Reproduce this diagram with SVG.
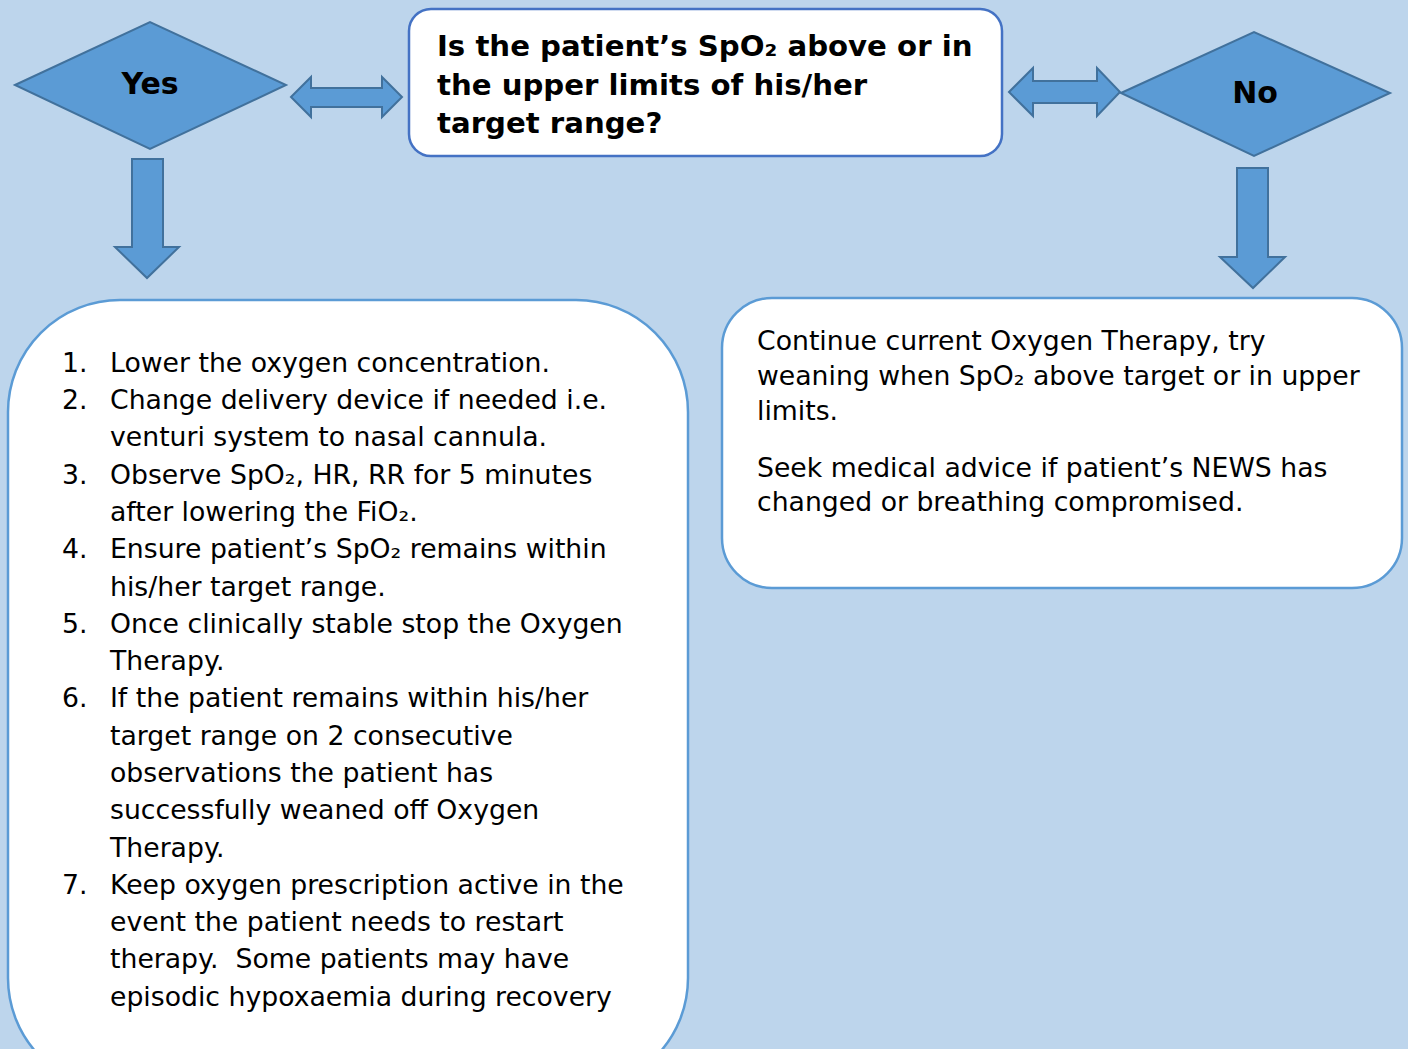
<svg xmlns="http://www.w3.org/2000/svg" width="1408" height="1049" viewBox="0 0 1408 1049">
<style>
.shape{fill:#5B9BD5;stroke:#41719C;stroke-width:2;stroke-linejoin:miter}
.box{fill:#FFFFFF;stroke:#5B9BD5;stroke-width:2.5}
.qbox{fill:#FFFFFF;stroke:#4472C4;stroke-width:2.5}
.t{font-family:"DejaVu Sans",Verdana,sans-serif;font-size:26.7px;fill:#000}
.b{font-family:"DejaVu Sans",Verdana,sans-serif;font-weight:bold;fill:#000}
</style>
<rect x="0" y="0" width="1408" height="1049" fill="#BDD5EC"/>
<g id="connectors">
<polygon class="shape" points="291,97 311,77 311,88 382,88 382,77 402,97 382,117 382,107 311,107 311,117"/>
<polygon class="shape" points="1009,92 1033,68 1033,81 1097,81 1097,68 1120,92 1097,116 1097,103 1033,103 1033,116"/>
<polygon class="shape" points="132,159 163,159 163,247 179,247 147,278 115,247 132,247"/>
<polygon class="shape" points="1237,168 1268,168 1268,257 1285,257 1253,288 1220,257 1237,257"/>
</g>
<g id="yes">
<polygon class="shape" points="15,85 150,22 286,85 150,149"/>
<text class="b" x="150" y="94" font-size="30" text-anchor="middle">Yes</text>
</g>
<g id="no">
<polygon class="shape" points="1121,93 1254,32 1390,93 1254,156"/>
<text class="b" x="1255" y="103" font-size="30" text-anchor="middle">No</text>
</g>
<g id="question">
<rect class="qbox" x="409" y="9" width="593" height="147" rx="22"/>
<text class="b" font-size="29.2"><tspan x="437" y="56">Is the patient’s SpO₂ above or in</tspan><tspan x="437" y="95">the upper limits of his/her</tspan><tspan x="437" y="133">target range?</tspan></text>
</g>
<g id="yes-actions">
<rect class="box" x="8" y="300" width="680" height="790" rx="112"/>
<text class="t">
<tspan x="62" y="372">1.</tspan><tspan x="110" y="372">Lower the oxygen concentration.</tspan>
<tspan x="62" y="409">2.</tspan><tspan x="110" y="409">Change delivery device if needed i.e.</tspan>
<tspan x="110" y="446">venturi system to nasal cannula.</tspan>
<tspan x="62" y="484">3.</tspan><tspan x="110" y="484">Observe SpO₂, HR, RR for 5 minutes</tspan>
<tspan x="110" y="521">after lowering the FiO₂.</tspan>
<tspan x="62" y="558">4.</tspan><tspan x="110" y="558">Ensure patient’s SpO₂ remains within</tspan>
<tspan x="110" y="596">his/her target range.</tspan>
<tspan x="62" y="633">5.</tspan><tspan x="110" y="633">Once clinically stable stop the Oxygen</tspan>
<tspan x="110" y="670">Therapy.</tspan>
<tspan x="62" y="707">6.</tspan><tspan x="110" y="707">If the patient remains within his/her</tspan>
<tspan x="110" y="745">target range on 2 consecutive</tspan>
<tspan x="110" y="782">observations the patient has</tspan>
<tspan x="110" y="819">successfully weaned off Oxygen</tspan>
<tspan x="110" y="857">Therapy.</tspan>
<tspan x="62" y="894">7.</tspan><tspan x="110" y="894">Keep oxygen prescription active in the</tspan>
<tspan x="110" y="931">event the patient needs to restart</tspan>
<tspan x="110" y="968" xml:space="preserve">therapy.  Some patients may have</tspan>
<tspan x="110" y="1006">episodic hypoxaemia during recovery</tspan>
</text>
</g>
<g id="no-actions">
<rect class="box" x="722" y="298" width="680" height="290" rx="50"/>
<text class="t">
<tspan x="757" y="350">Continue current Oxygen Therapy, try</tspan>
<tspan x="757" y="385">weaning when SpO₂ above target or in upper</tspan>
<tspan x="757" y="420">limits.</tspan>
<tspan x="757" y="477">Seek medical advice if patient’s NEWS has</tspan>
<tspan x="757" y="511">changed or breathing compromised.</tspan>
</text>
</g>
</svg>
